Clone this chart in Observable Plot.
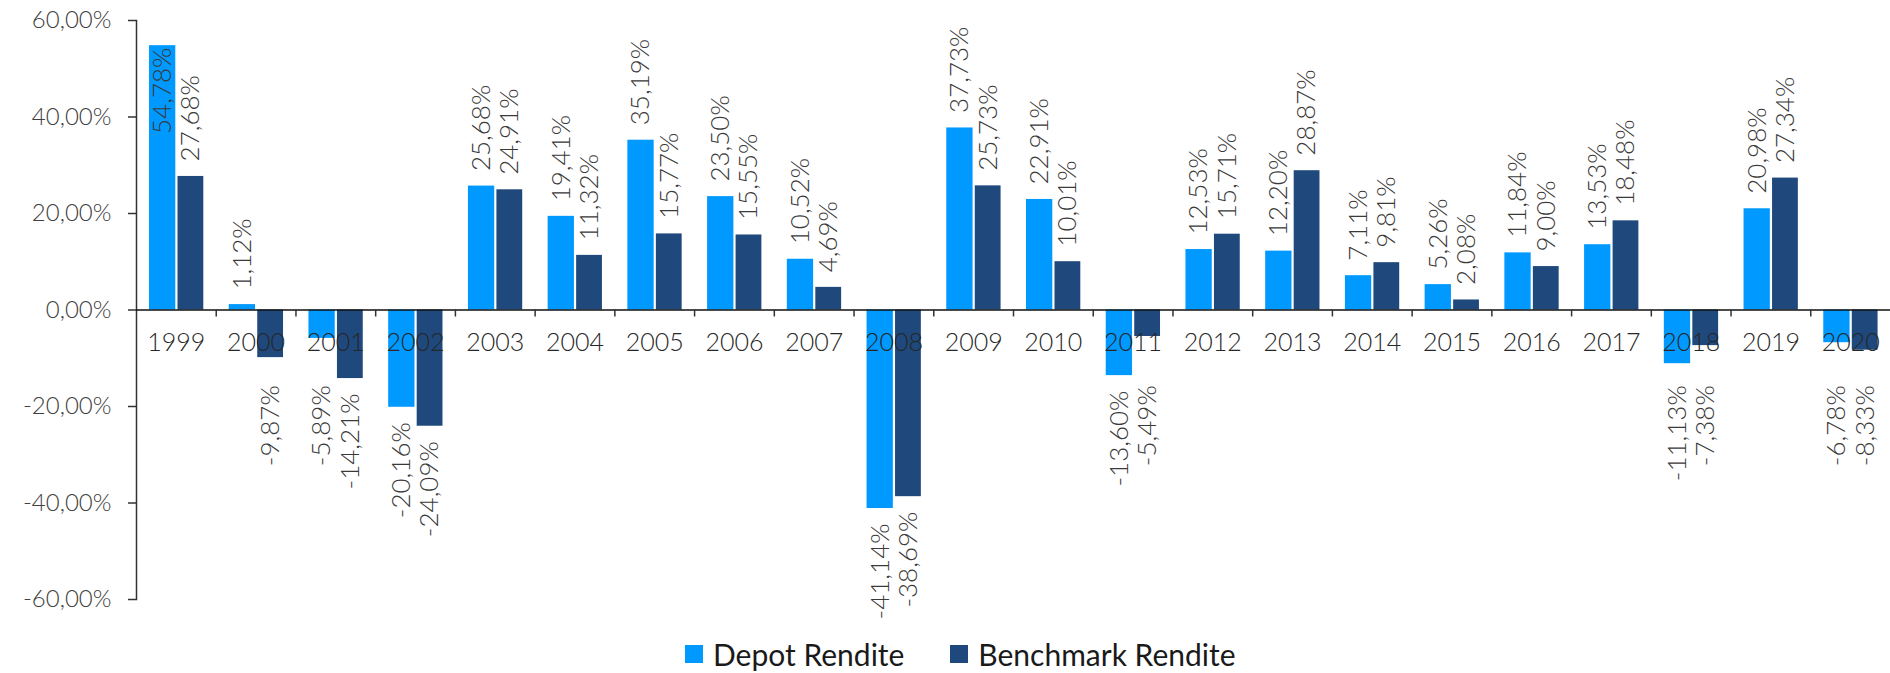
<!DOCTYPE html>
<html>
<head>
<meta charset="utf-8">
<script src="https://cdn.jsdelivr.net/npm/d3@7"></script>
<script src="https://cdn.jsdelivr.net/npm/@observablehq/plot@0.6"></script>
<style>
  html, body { margin: 0; padding: 0; background: #fff; }
  #chart svg { display: block; }
  .legend { display: flex; align-items: center; height: 38px; padding-left: 685px;
            font-family: Lato, "Noto Sans", sans-serif; font-size: 30px; color: #1a1a1a; }
  .legend .item { display: flex; align-items: center; }
  .legend .sw { width: 18px; height: 18px; margin-right: 10px; }
  .legend .item + .item { margin-left: 46px; }
</style>
</head>
<body>
<div id="chart"></div>
<div class="legend" id="legend"></div>
<script>
const years = [1999, 2000, 2001, 2002, 2003, 2004, 2005, 2006, 2007, 2008, 2009, 2010, 2011, 2012, 2013, 2014, 2015, 2016, 2017, 2018, 2019, 2020];
const depot = [54.78, 1.12, -5.89, -20.16, 25.68, 19.41, 35.19, 23.50, 10.52, -41.14, 37.73, 22.91, -13.60, 12.53, 12.20, 7.11, 5.26, 11.84, 13.53, -11.13, 20.98, -6.78];
const benchmark = [27.68, -9.87, -14.21, -24.09, 24.91, 11.32, 15.77, 15.55, 4.69, -38.69, 25.73, 10.01, -5.49, 15.71, 28.87, 9.81, 2.08, 9.00, 18.48, -7.38, 27.34, -8.33];
const seriesNames = ["Depot Rendite", "Benchmark Rendite"];
const seriesColors = ["#0099ff", "#1f497d"];
const yTicks = [-60, -40, -20, 0, 20, 40, 60];

const de = d3.formatLocale({decimal: ",", thousands: ".", grouping: [3], currency: ["", " €"], minus: "-"});
const pct = v => de.format(".2f")(v) + "%";

const rows = [];
years.forEach((yr, i) => {
  rows.push({year: yr, series: seriesNames[0], value: depot[i]});
  rows.push({year: yr, series: seriesNames[1], value: benchmark[i]});
});

const W = 1890, H = 635, mL = 136, mR = 0, mT = 20, mB = 36;
const band = (W - mL - mR) / years.length;
const zeroShift = (H - mT - mB) / 2; // distance from frame bottom to y = 0
const boundaries = years.slice(1).map(y => y - 0.5);

// per-series bar placement inside each year's band (pixels)
const geo = {
  "Depot Rendite": {l: 13, r: band - 39.3},
  "Benchmark Rendite": {l: 41.5, r: band - 67.3}
};
const center = s => (geo[s].l + (band - geo[s].r)) / 2 - band / 2;

const marks = [];
seriesNames.forEach((s, k) => {
  const d = rows.filter(r => r.series === s);
  marks.push(Plot.rectY(d, {
    x1: r => r.year - 0.5, x2: r => r.year + 0.5, y1: () => 0, y2: "value",
    fill: seriesColors[k], insetLeft: geo[s].l, insetRight: geo[s].r
  }));
  const labelStyle = {x: "year", text: r => pct(r.value), rotate: -90, dx: center(s),
    fontSize: 26, fill: "#3a3a3a"};
  marks.push(Plot.text(d.filter(r => r.value >= 0 && r.value < 45), {
    ...labelStyle, y: "value", textAnchor: "start", dy: -15
  }));
  marks.push(Plot.text(d.filter(r => r.value >= 45), {
    ...labelStyle, y: "value", textAnchor: "end", dy: 2
  }));
  marks.push(Plot.text(d.filter(r => r.value < 0), {
    ...labelStyle, y: r => Math.min(r.value, -12.5), textAnchor: "end", dy: 15
  }));
});

const chart = Plot.plot({
  width: W, height: H,
  marginLeft: mL, marginRight: mR, marginTop: mT, marginBottom: mB,
  style: {fontFamily: "Lato, 'Noto Sans', sans-serif", fontWeight: 300, background: "#fff", overflow: "visible"},
  x: {type: "linear", domain: [years[0] - 0.5, years[years.length - 1] + 0.5], axis: null, label: null},
  y: {domain: [-60, 60], axis: null, label: null},
  marks: [
    ...marks,
    Plot.frame({anchor: "left", stroke: "#333", strokeWidth: 1.5}),
    Plot.ruleY([0], {stroke: "#111", strokeWidth: 1.5}),
    Plot.axisY({ticks: yTicks, tickSize: 8, tickPadding: 17, tickFormat: pct, label: null,
      fontSize: 24, stroke: "#333", fill: "#404040", strokeWidth: 1.5}),
    Plot.axisX({ticks: boundaries, tickSize: 7, tickFormat: () => "", label: null, stroke: "#333",
      strokeWidth: 1.5, dy: -zeroShift}),
    Plot.text(years, {x: d => d, y: () => 0, text: d => String(d), dy: 33,
      fontSize: 25, fill: "#262626"})
  ]
});
document.getElementById("chart").appendChild(chart);

const legend = document.getElementById("legend");
seriesNames.forEach((s, k) => {
  const it = document.createElement("div");
  it.className = "item";
  const sw = document.createElement("span");
  sw.className = "sw";
  sw.style.background = seriesColors[k];
  const tx = document.createElement("span");
  tx.textContent = s;
  it.appendChild(sw); it.appendChild(tx);
  legend.appendChild(it);
});
</script>
</body>
</html>
